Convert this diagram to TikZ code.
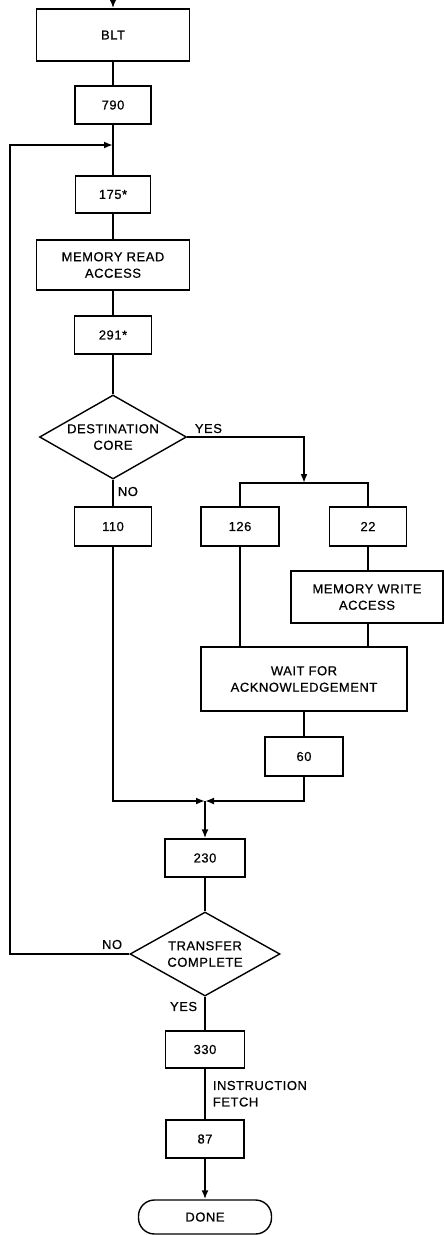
\documentclass[tikz,border=0pt]{standalone}
\usepackage{fontspec}
\setmainfont{Liberation Sans}[FakeBold=0.6,LetterSpace=4]
\usetikzlibrary{arrows.meta,shapes.geometric}
\begin{document}
\begin{tikzpicture}[x=1pt,y=-1pt,line width=1.8pt,
  txt/.style={font=\fontsize{13}{16.5}\selectfont},
  box/.style={draw,rectangle,line width=1.4pt,inner sep=0pt,align=center,txt},
  dec/.style={draw,diamond,line width=1.4pt,inner sep=0pt,aspect=1.75,align=center,txt},
  term/.style={draw,rectangle,line width=1.4pt,rounded corners=16pt,inner sep=0pt,align=center,txt},
  lbl/.style={inner sep=0pt,align=left,txt},
  arr/.style={-{Latex[length=9pt,width=7pt]}}]
\useasboundingbox (0,0) rectangle (444,1235);
% column 1
\coordinate (top) at (113,0);
\node[box,minimum width=153pt,minimum height=52pt] (blt) at (113,35) {BLT};
\node[box,minimum width=76pt,minimum height=38pt] (n790) at (113,105) {790};
\coordinate (j) at (113,145);
\node[box,minimum width=75pt,minimum height=37pt] (n175) at (113,194.5) {175*};
\node[box,minimum width=153pt,minimum height=50pt] (mra) at (113,265) {MEMORY READ\\ACCESS};
\node[box,minimum width=77pt,minimum height=38pt] (n291) at (113,335) {291*};
\node[dec,minimum width=147pt,minimum height=84pt] (d1) at (113,437) {DESTINATION\\CORE};
\node[box,minimum width=77pt,minimum height=39pt] (n110) at (113,526.5) {110};
% right branch
\coordinate (b) at (304,483);
\node[box,minimum width=78pt,minimum height=39pt] (n126) at (240,526.5) {126};
\node[box,minimum width=77pt,minimum height=39pt] (n22) at (368,526.5) {22};
\node[box,minimum width=152pt,minimum height=52pt] (mwa) at (367,597) {MEMORY WRITE\\ACCESS};
\node[box,minimum width=206pt,minimum height=64pt] (wait) at (304,679) {WAIT FOR\\ACKNOWLEDGEMENT};
\node[box,minimum width=78pt,minimum height=39pt] (n60) at (304,756.5) {60};
% column 2
\coordinate (m) at (205,801);
\node[box,minimum width=80pt,minimum height=38pt] (n230) at (205,858) {230};
\node[dec,minimum width=150pt,minimum height=84pt] (d2) at (205,954) {TRANSFER\\COMPLETE};
\node[box,minimum width=79pt,minimum height=37pt] (n330) at (205,1049.5) {330};
\node[box,minimum width=78pt,minimum height=38pt] (n87) at (205,1139) {87};
\node[term,minimum width=133pt,minimum height=34pt] (done) at (205,1217) {DONE};
\coordinate (lx) at (10,0);
% labels
\node[lbl,anchor=south west] (yes1) at (194,434) {YES};
\node[lbl,anchor=north west] (no1) at (117,486) {NO};
\node[lbl,anchor=south east] (no2) at (123,950) {NO};
\node[lbl,anchor=north east] (yes2) at (198,1001) {YES};
\node[lbl,anchor=north west] (ifetch) at (212,1080) {INSTRUCTION\\FETCH};
% connectors
\draw[arr] (top) -- (blt.north);
\draw (blt) -- (n790);
\draw (n790) -- (n175);
\draw (n175) -- (mra);
\draw (mra) -- (n291);
\draw (n291) -- (d1.north);
\draw (d1.south) -- (n110.north);
\draw[arr] (d1.east) -| (b);
\draw (n126.north) |- (b) -| (n22.north);
\draw (n22.south) -- (n22.south |- mwa.north);
\draw (n22.south |- mwa.south) -- (n22.south |- wait.north);
\draw (n126.south) -- (n126.south |- wait.north);
\draw (wait) -- (n60);
\draw[arr] (n110.south) |- (m);
\draw[arr] (n60.south) |- (m);
\draw[arr] (m) -- (n230.north);
\draw (n230) -- (d2.north);
\draw (d2.south) -- (n330.north);
\draw (n330) -- (n87);
\draw[arr] (n87) -- (done.north);
\draw[arr] (d2.west) -- (d2.west -| lx) |- (j);
\end{tikzpicture}
\end{document}
